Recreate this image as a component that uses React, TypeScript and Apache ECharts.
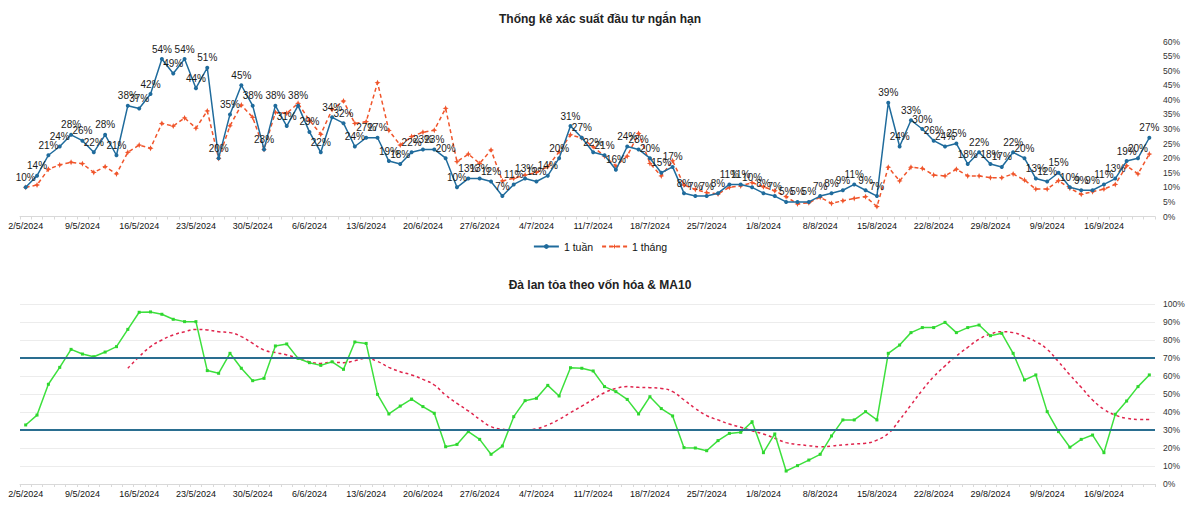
import React, { useEffect, useRef } from "react";
import * as echarts from "echarts";

const dates = [
  "2/5/2024","3/5/2024","6/5/2024","7/5/2024","8/5/2024","9/5/2024","10/5/2024","13/5/2024","14/5/2024","15/5/2024",
  "16/5/2024","17/5/2024","20/5/2024","21/5/2024","22/5/2024","23/5/2024","24/5/2024","27/5/2024","28/5/2024","29/5/2024",
  "30/5/2024","31/5/2024","3/6/2024","4/6/2024","5/6/2024","6/6/2024","7/6/2024","10/6/2024","11/6/2024","12/6/2024",
  "13/6/2024","14/6/2024","17/6/2024","18/6/2024","19/6/2024","20/6/2024","21/6/2024","24/6/2024","25/6/2024","26/6/2024",
  "27/6/2024","28/6/2024","1/7/2024","2/7/2024","3/7/2024","4/7/2024","5/7/2024","8/7/2024","9/7/2024","10/7/2024",
  "11/7/2024","12/7/2024","15/7/2024","16/7/2024","17/7/2024","18/7/2024","19/7/2024","22/7/2024","23/7/2024","24/7/2024",
  "25/7/2024","26/7/2024","29/7/2024","30/7/2024","31/7/2024","1/8/2024","2/8/2024","5/8/2024","6/8/2024","7/8/2024",
  "8/8/2024","9/8/2024","12/8/2024","13/8/2024","14/8/2024","15/8/2024","16/8/2024","19/8/2024","20/8/2024","21/8/2024",
  "22/8/2024","23/8/2024","26/8/2024","27/8/2024","28/8/2024","29/8/2024","30/8/2024","4/9/2024","5/9/2024","6/9/2024",
  "9/9/2024","10/9/2024","11/9/2024","12/9/2024","13/9/2024","16/9/2024","17/9/2024","18/9/2024","19/9/2024","20/9/2024",
];

const tuan1 = [
  10, 14, 21, 24, 28, 26, 22, 28, 21, 38,
  37, 42, 54, 49, 54, 44, 51, 20, 35, 45,
  38, 23, 38, 31, 38, 29, 22, 34, 32, 24,
  27, 27, 19, 18, 22, 23, 23, 20, 10, 13,
  13, 12, 7, 11, 13, 12, 14, 20, 31, 27,
  22, 21, 16, 24, 23, 20, 15, 17, 8, 7,
  7, 8, 11, 11, 10, 8, 7, 5, 5, 5,
  7, 8, 9, 11, 9, 7, 39, 24, 33, 30,
  26, 24, 25, 18, 22, 18, 17, 22, 20, 13,
  12, 15, 10, 9, 9, 11, 13, 19, 20, 27,
];

const thang1 = [
  10.0, 10.8, 16.2, 17.7, 18.6, 18.1, 15.1, 17.1, 14.6, 22.0,
  24.5, 23.4, 31.9, 31.0, 33.8, 30.3, 36.2, 19.9, 31.1, 38.2,
  34.0, 23.0, 35.7, 35.4, 38.8, 33.0, 28.2, 36.7, 39.6, 31.9,
  32.5, 45.9, 29.5, 24.5, 27.4, 28.9, 29.6, 37.1, 18.8, 21.4,
  18.2, 22.8, 12.2, 13.1, 14.2, 15.1, 17.1, 22.2, 28.0, 26.9,
  23.9, 20.7, 17.3, 20.7, 28.5, 18.2, 13.9, 19.1, 10.8, 9.3,
  8.2, 7.7, 10.0, 10.5, 11.6, 10.2, 8.8, 6.8, 4.3, 4.7,
  6.6, 4.5, 5.4, 6.2, 6.8, 3.4, 16.9, 12.2, 16.9, 16.5,
  14.2, 13.9, 16.2, 13.9, 13.9, 13.3, 13.3, 14.6, 12.5, 9.4,
  9.4, 12.3, 9.7, 7.6, 8.5, 9.4, 11.0, 17.4, 14.6, 21.4,
];

const breadth = [
  32.8, 38.3, 55.4, 64.8, 74.8, 72.2, 70.7, 73.3, 76.3, 85.9,
  95.4, 95.6, 94.3, 91.5, 90.2, 90.2, 63.0, 61.5, 72.6, 64.3,
  57.4, 58.7, 76.7, 77.8, 69.8, 67.4, 65.9, 67.9, 63.7, 78.9,
  78.1, 49.8, 38.9, 43.3, 47.2, 43.0, 39.3, 20.7, 22.0, 29.1,
  24.8, 16.5, 21.1, 37.4, 46.3, 47.6, 54.8, 48.9, 64.6, 64.3,
  62.8, 54.1, 51.3, 47.0, 38.9, 48.5, 41.9, 37.8, 20.2, 20.0,
  18.5, 24.1, 28.1, 28.7, 34.6, 17.4, 27.8, 7.2, 10.2, 13.3,
  16.5, 26.7, 35.6, 35.6, 40.2, 35.6, 72.6, 77.2, 84.1, 86.9,
  86.9, 89.8, 84.1, 86.9, 88.3, 82.4, 83.7, 72.6, 57.8, 60.6,
  40.2, 29.1, 20.4, 24.8, 27.2, 17.4, 38.7, 46.1, 54.1, 60.6,
];

const ma10 = [
  null, null, null, null, null, null, null, null, null, 64.3,
  70.7, 76.3, 80.0, 82.8, 84.6, 85.9, 85.6, 84.6, 84.1, 81.9,
  78.1, 74.4, 73.0, 71.7, 69.8, 67.9, 67.0, 67.6, 67.4, 68.5,
  69.8, 68.1, 64.8, 62.4, 60.6, 58.1, 55.0, 49.4, 44.8, 40.6,
  35.9, 31.9, 30.4, 30.0, 30.0, 30.7, 32.8, 35.9, 39.6, 43.3,
  47.0, 50.7, 53.1, 54.1, 53.7, 53.5, 53.1, 51.3, 46.7, 42.0,
  38.0, 35.6, 33.3, 31.5, 29.6, 27.8, 25.4, 23.0, 22.0, 21.3,
  20.7, 21.1, 21.7, 22.2, 22.6, 24.4, 28.1, 35.6, 43.9, 52.2,
  59.6, 65.6, 71.1, 75.9, 80.4, 83.3, 84.6, 84.1, 81.9, 79.1,
  74.8, 67.9, 60.6, 53.7, 46.7, 41.5, 38.3, 36.5, 35.9, 35.9,
];

const thresholds = [70, 30];

const FONT = "'Liberation Sans', Arial, sans-serif";
const starPath = "path://M0,-10 L3,-3 L10,0 L3,3 L0,10 L-3,3 L-10,0 L-3,-3 Z";

export default function App() {
  const ref = useRef<HTMLDivElement>(null);
  useEffect(() => {
    if (!ref.current) return;
    const chart = echarts.init(ref.current, undefined, { renderer: "svg" });
    const xAxisBase = (gridIndex: number) => ({
      type: "category",
      gridIndex,
      data: dates,
      boundaryGap: true,
      axisLine: { show: true, lineStyle: { color: "#d9d9d9", width: 1 } },
      axisTick: { show: true, interval: 0, length: 3, lineStyle: { color: "#d9d9d9" } },
      axisLabel: {
        interval: 4,
        fontSize: 9,
        color: "#111",
        fontFamily: FONT,
        margin: 5,
      },
      splitLine: { show: false },
    });
    chart.setOption({
      animation: false,
      backgroundColor: "#fff",
      title: [
        {
          text: "Thống kê xác suất đầu tư ngắn hạn",
          left: "center",
          top: 8,
          textStyle: { fontSize: 12, fontWeight: "bold", color: "#222", fontFamily: FONT },
        },
        {
          text: "Đà lan tỏa theo vốn hóa & MA10",
          left: "center",
          top: 274,
          textStyle: { fontSize: 12, fontWeight: "bold", color: "#222", fontFamily: FONT },
        },
      ],
      legend: {
        data: ["1 tuần", "1 tháng"],
        left: "center",
        top: 236,
        itemWidth: 25,
        itemHeight: 6,
        itemGap: 8,
        textStyle: { fontSize: 10.5, color: "#111", fontFamily: FONT },
      },
      grid: [
        { left: 20, right: 45, top: 41.5, height: 175 },
        { left: 20, right: 45, top: 304, height: 180 },
      ],
      xAxis: [xAxisBase(0), xAxisBase(1)],
      yAxis: [
        {
          type: "value",
          gridIndex: 0,
          position: "right",
          min: 0,
          max: 60,
          interval: 5,
          axisLine: { show: false },
          axisTick: { show: false },
          splitLine: { show: false },
          axisLabel: { formatter: "{value}%", fontSize: 8.5, color: "#333", fontFamily: FONT, margin: 8 },
        },
        {
          type: "value",
          gridIndex: 1,
          position: "right",
          min: 0,
          max: 100,
          interval: 10,
          axisLine: { show: false },
          axisTick: { show: false },
          splitLine: { show: true, lineStyle: { color: "#ececec", width: 1 } },
          axisLabel: { formatter: "{value}%", fontSize: 8.5, color: "#333", fontFamily: FONT, margin: 8 },
        },
      ],
      series: [
        {
          name: "1 tuần",
          type: "line",
          xAxisIndex: 0,
          yAxisIndex: 0,
          data: tuan1,
          symbol: "circle",
          symbolSize: 4,
          itemStyle: { color: "#1f6b9c" },
          lineStyle: { color: "#1f6b9c", width: 1.5 },
          label: {
            show: true,
            position: "top",
            distance: 3,
            fontSize: 10,
            color: "#1a1a1a",
            fontFamily: FONT,
            formatter: (p: any) => Math.round(p.value) + "%",
          },
          z: 3,
        },
        {
          name: "1 tháng",
          type: "line",
          xAxisIndex: 0,
          yAxisIndex: 0,
          data: thang1,
          symbol: starPath,
          symbolSize: 6,
          itemStyle: { color: "#f0552b" },
          lineStyle: { color: "#f0552b", width: 1.5, type: [4, 3] },
          z: 2,
        },
        {
          name: "Đà lan tỏa",
          type: "line",
          xAxisIndex: 1,
          yAxisIndex: 1,
          data: breadth,
          symbol: "rect",
          symbolSize: 3,
          itemStyle: { color: "#2fd62f" },
          lineStyle: { color: "#3de03d", width: 1.5 },
          markLine: {
            silent: true,
            symbol: ["none", "none"],
            label: { show: false },
            lineStyle: { color: "#2a6e90", width: 2, type: "solid" },
            data: thresholds.map((v) => ({ yAxis: v })),
          },
          z: 3,
        },
        {
          name: "MA10",
          type: "line",
          xAxisIndex: 1,
          yAxisIndex: 1,
          data: ma10,
          smooth: true,
          symbol: "none",
          connectNulls: false,
          lineStyle: { color: "#e0244c", width: 1.5, type: [3, 3] },
          z: 2,
        },
      ],
    });
    return () => chart.dispose();
  }, []);
  return (
    <div
      ref={ref}
      style={{ position: "fixed", left: 0, top: 0, width: 1200, height: 514, background: "#fff" }}
    />
  );
}
